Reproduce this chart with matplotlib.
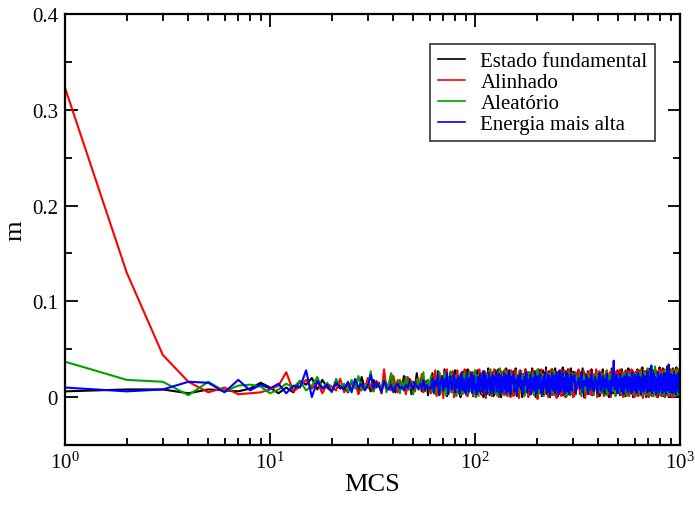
import numpy as np
import matplotlib
matplotlib.use('Agg')
import matplotlib.pyplot as plt
from matplotlib.ticker import LogLocator, MultipleLocator, FixedLocator, NullFormatter

# MCS steps: every step up to 150, every 2 up to 300, every 5 up to 1000
mcs = np.concatenate([np.arange(1, 151), np.arange(152, 301, 2), np.arange(305, 1001, 5)])

labels = ['Estado fundamental', 'Alinhado', 'Aleatório', 'Energia mais alta']
colors = ['black', '#ff0000', '#00a000', '#0000ff']

# magnetization, in units of 1e-3
m_fund = [6, 8, 8, 4, 8, 7, 6, 9, 15, 10, 4, 10, 5, 17, 13, 20, 8, 18, 10, 6,
          14, 9, 12, 5, 16, 11, 7, 21, 9, 13, 6, 18, 10, 15, 4, 20, 12, 8, 24, 11,
          5, 17, 14, 9, 22, 7, 13, 19, 3, 16, 11, 25, 8, 14, 6, 20, 12, 17, 2, 15,
          # 61..150
          12, 25, 4, 19, 8, 27, 2, 16, 22, 6, 29, 10, 1, 21, 14,
          26, 5, 18, 11, 28, 3, 23, 9, 17, 0, 24, 13, 27, 7, 20,
          2, 29, 15, 6, 22, 10, 26, 1, 18, 24, 4, 12, 28, 8, 19,
          25, 3, 21, 14, 0, 27, 9, 17, 23, 5, 30, 11, 2, 20, 16,
          7, 26, 1, 24, 13, 28, 4, 18, 10, 29, 6, 22, 15, 0, 25,
          19, 3, 27, 11, 21, 8, 30, 2, 16, 24, 5, 28, 12, 1, 23,
          # 152..300
          3, 27, 12, 30, 1, 21, 8, 28, 16, 0, 24, 10, 29, 5, 19,
          26, 2, 22, 13, 30, 6, 18, 27, 0, 23, 11, 29, 4, 20, 15,
          1, 28, 9, 25, 17, 31, 3, 21, 12, 27, 0, 24, 7, 29, 14,
          22, 5, 30, 10, 19, 26, 1, 23, 16, 28, 4, 20, 9, 31, 2,
          25, 13, 27, 0, 22, 8, 29, 17, 3, 24, 11, 30, 6, 19, 26,
          # 305..1000
          26, 3, 20, 28, 7, 13, 30, 0, 24, 10, 27, 4, 18, 29, 2, 22, 14, 28, 5, 19,
          1, 25, 11, 29, 6, 21, 3, 27, 16, 0, 23, 8, 30, 4, 19, 26, 2, 14, 28, 7,
          24, 2, 18, 29, 5, 22, 10, 27, 1, 20, 13, 30, 3, 17, 25, 6, 28, 0, 21, 11,
          3, 26, 9, 29, 1, 23, 15, 28, 4, 19, 31, 2, 24, 7, 27, 12, 0, 22, 29, 5,
          25, 8, 30, 2, 20, 14, 28, 1, 23, 6, 29, 11, 3, 26, 17, 0, 24, 9, 31, 4,
          21, 27, 5, 18, 30, 1, 24, 12, 28, 3, 22, 7, 32, 2, 19, 26, 0, 15, 29, 6,
          27, 2, 23, 10, 30, 4, 18, 28, 1, 25, 13, 31, 5, 20, 0, 26, 8, 29, 3, 22]

m_alin = [323, 130, 44, 16, 5, 10, 3, 4, 5, 8, 12, 26, 6, 11, 18, 9, 16, 4, 14, 11,
          7, 19, 5, 13, 9, 16, 3, 12, 8, 20, 10, 6, 17, 13, 4, 29, 9, 15, 7, 22,
          11, 5, 18, 10, 14, 3, 21, 8, 16, 12, 6, 19, 9, 13, 24, 5, 15, 10, 18, 7,
          # 61..150
          4, 22, 13, 28, 1, 18, 25, 7, 20, -1, 26, 11, 29, 3, 16,
          24, 9, 27, 0, 19, 14, 28, 5, 21, 2, 25, 10, 17, 29, 6,
          23, 1, 15, 27, 8, 20, 26, 3, 12, 28, 0, 22, 18, 5, 29,
          9, 24, 2, 16, 27, 11, 21, -1, 25, 7, 19, 28, 4, 14, 26,
          1, 23, 17, 29, 6, 20, 3, 27, 12, 24, 0, 18, 28, 9, 22,
          5, 26, 14, 2, 29, 10, 21, 27, 1, 17, 25, 6, 23, 0, 28,
          # 152..300
          25, 1, 19, 28, 6, 23, -1, 17, 27, 9, 21, 2, 29, 12, 24,
          0, 20, 26, 5, 15, 28, 3, 22, 10, 27, -2, 18, 25, 7, 29,
          13, 1, 24, 20, 4, 28, 11, 26, 0, 17, 23, 6, 29, 2, 21,
          27, 8, 14, 25, -1, 22, 18, 3, 28, 10, 24, 1, 19, 26, 5,
          28, 15, 0, 23, 9, 27, 4, 20, 29, 2, 16, 25, 7, 22, 0,
          # 305..1000
          1, 26, 9, 29, 3, 22, 14, 27, -1, 19, 25, 5, 28, 2, 17, 24, 8, 29, 0, 21,
          27, 4, 18, 25, 1, 23, 11, 28, 3, 20, 26, 0, 15, 29, 6, 22, 2, 27, 13, 4,
          22, 29, 2, 16, 26, 0, 24, 9, 28, 3, 19, 27, 1, 21, 12, 29, 4, 18, 25, 0,
          26, 5, 20, 28, 1, 17, 25, 3, 29, 10, 22, -1, 24, 14, 27, 2, 19, 28, 6, 23,
          0, 27, 12, 24, 3, 29, 18, 1, 22, 26, 5, 20, 28, 0, 16, 25, 4, 29, 11, 2,
          24, 28, 1, 19, 26, 4, 22, 29, 0, 17, 27, 6, 23, 2, 28, 13, 25, 1, 20, 29,
          3, 22, 27, 0, 18, 29, 5, 24, 1, 26, 15, 28, 2, 21, 29, 4, 23, 11, 27, 1]

m_alea = [37, 18, 16, 2, 16, 6, 12, 13, 11, 4, 8, 14, 10, 17, 7, 12, 21, 9, 15, 5,
          19, 11, 14, 6, 18, 9, 22, 7, 13, 10, 27, 6, 15, 11, 8, 19, 5, 14, 25, 9,
          12, 18, 4, 16, 10, 21, 7, 13, 17, 3, 15, 11, 20, 8, 14, 26, 6, 12, 18, 9,
          # 61..150
          22, 6, 17, 3, 20, 13, 26, 4, 18, 10, 24, 2, 15, 21, 8,
          27, 5, 19, 12, 23, 1, 20, 16, 7, 24, 10, 3, 19, 25, 9,
          14, 22, 4, 18, 26, 7, 21, 2, 16, 28, 6, 23, 12, 1, 20,
          17, 8, 25, 4, 19, 14, 22, 3, 21, 11, 24, 6, 18, 29, 2,
          15, 23, 9, 20, 4, 26, 13, 18, 1, 22, 8, 30, 5, 16, 21,
          3, 24, 12, 19, 7, 27, 17, 4, 22, 14, 2, 23, 10, 18, 25,
          # 152..300
          24, 8, 20, 3, 22, 15, 27, 5, 18, 11, 23, 1, 21, 16, 4,
          26, 12, 22, 7, 19, 25, 2, 17, 21, 9, 29, 3, 23, 14, 6,
          24, 18, 1, 21, 12, 26, 8, 20, 15, 3, 25, 10, 22, 5, 18,
          28, 2, 16, 23, 9, 21, 13, 26, 4, 19, 24, 7, 17, 11, 25,
          4, 22, 15, 20, 1, 27, 10, 21, 18, 6, 24, 3, 19, 25, 12,
          # 305..1000
          24, 3, 21, 13, 26, 1, 18, 22, 6, 16, 25, 3, 20, 10, 23, 2, 19, 15, 24, 5,
          20, 25, 4, 17, 22, 9, 27, 2, 19, 13, 24, 3, 21, 7, 25, 11, 1, 21, 16, 23,
          6, 24, 15, 3, 22, 18, 26, 5, 20, 1, 17, 25, 9, 22, 12, 23, 3, 19, 26, 7,
          22, 2, 18, 24, 10, 21, 4, 27, 15, 1, 22, 12, 24, 6, 20, 25, 3, 18, 30, 9,
          25, 14, 3, 22, 19, 1, 24, 11, 21, 5, 32, 17, 2, 23, 20, 8, 26, 13, 3, 22,
          18, 25, 6, 21, 24, 2, 16, 23, 10, 28, 3, 20, 22, 1, 18, 25, 12, 21, 4, 24,
          15, 27, 3, 22, 23, 7, 19, 25, 1, 21, 14, 29, 5, 22, 18, 2, 24, 11, 26, 20]

m_alta = [10, 6, 8, 16, 15, 5, 18, 7, 13, 9, 14, 4, 12, 10, 28, 0, 17, 9, 13, 6,
          15, 11, 8, 16, 5, 19, 10, 14, 7, 12, 23, 9, 15, 11, 6, 17, 10, 8, 13, 5,
          12, 14, 9, 11, 7, 13, 10, 16, 12, 8, 15, 11, 9, 14, 10, 18, 7, 13, 11, 9,
          # 61..150
          9, 20, 5, 17, 12, 23, 4, 15, 21, 7, 19, 11, 25, 3, 16,
          22, 8, 13, 24, 5, 18, 10, 21, 3, 15, 26, 7, 19, 12, 4,
          23, 14, 6, 20, 10, 25, 4, 17, 22, 8, 13, 3, 21, 16, 6,
          24, 11, 19, 5, 27, 9, 15, 22, 3, 18, 12, 25, 7, 20, 4,
          16, 23, 10, 5, 21, 14, 26, 6, 18, 9, 24, 3, 17, 22, 11,
          5, 20, 13, 25, 8, 16, 4, 23, 11, 19, 6, 26, 14, 3, 21,
          # 152..300
          14, 24, 6, 19, 3, 22, 11, 25, 8, 17, 4, 21, 13, 26, 5,
          18, 10, 23, 3, 20, 15, 7, 25, 12, 4, 22, 9, 19, 24, 6,
          16, 3, 21, 11, 26, 8, 18, 5, 23, 14, 2, 20, 10, 25, 7,
          17, 22, 4, 13, 24, 9, 19, 3, 27, 11, 6, 21, 15, 25, 8,
          20, 4, 18, 12, 26, 6, 23, 10, 3, 19, 14, 24, 7, 21, 16,
          # 305..1000
          23, 4, 14, 20, 9, 26, 5, 17, 12, 22, 3, 19, 8, 24, 11, 6, 21, 15, 4, 18,
          25, 7, 13, 22, 5, 19, 10, 24, 9, 6, 17, 3, 21, 12, 38, 8, 15, 23, 4, 18,
          11, 24, 6, 20, 14, 3, 22, 9, 17, 25, 5, 13, 21, 8, 19, 4, 26, 12, 16, 7,
          23, 10, 4, 18, 25, 8, 15, 21, 3, 19, 12, 24, 6, 17, 22, 9, 14, 5, 27, 11,
          20, 6, 16, 24, 33, 4, 18, 11, 25, 7, 21, 14, 3, 19, 9, 26, 12, 5, 22, 15,
          8, 24, 13, 4, 20, 17, 6, 25, 10, 22, 3, 18, 14, 27, 7, 34, 11, 21, 5, 19,
          24, 9, 16, 4, 22, 12, 26, 6, 18, 14, 3, 23, 10, 20, 7, 25, 13, 5, 21, 16]

series = [m_fund, m_alin, m_alea, m_alta]

plt.rcParams['font.family'] = ['Liberation Serif', 'DejaVu Serif']
plt.rcParams['mathtext.fontset'] = 'stix'

fig = plt.figure(figsize=(6.95, 5.06), dpi=100)
ax = fig.add_axes([65 / 695, 60 / 506, 615 / 695, 431 / 506])

for vals, lab, col in zip(series, labels, colors):
    ax.plot(mcs, np.array(vals) / 1000.0, color=col, lw=1.5, label=lab)

ax.set_xscale('log')
ax.set_xlim(1, 1000)
ax.set_ylim(-0.05, 0.4)

ax.xaxis.set_major_locator(LogLocator(base=10, numticks=10))
ax.xaxis.set_minor_locator(LogLocator(base=10, subs=np.arange(2, 10), numticks=10))
ax.xaxis.set_minor_formatter(NullFormatter())
ax.yaxis.set_major_locator(FixedLocator([0, 0.1, 0.2, 0.3, 0.4]))
ax.yaxis.set_minor_locator(MultipleLocator(0.05))
ax.set_yticklabels(['0', '0.1', '0.2', '0.3', '0.4'])

ax.tick_params(which='both', direction='in', top=True, right=True, labelsize=15, width=1.3)
ax.tick_params(which='major', length=9, pad=5)
ax.tick_params(which='minor', length=5)
for sp in ax.spines.values():
    sp.set_linewidth(1.6)

ax.set_xlabel('MCS', fontsize=19, labelpad=0)
ax.set_ylabel('m', fontsize=19, labelpad=4)

leg = ax.legend(loc='upper right', bbox_to_anchor=(0.959, 0.930), borderaxespad=0,
                fontsize=15, frameon=True, fancybox=False, edgecolor='black',
                handlelength=1.3, handletextpad=0.75, labelspacing=0.07,
                borderpad=0.35)
leg.get_frame().set_linewidth(1.2)
for line in leg.get_lines():
    line.set_linewidth(1.2)

fig.savefig('out.png', dpi=100)
